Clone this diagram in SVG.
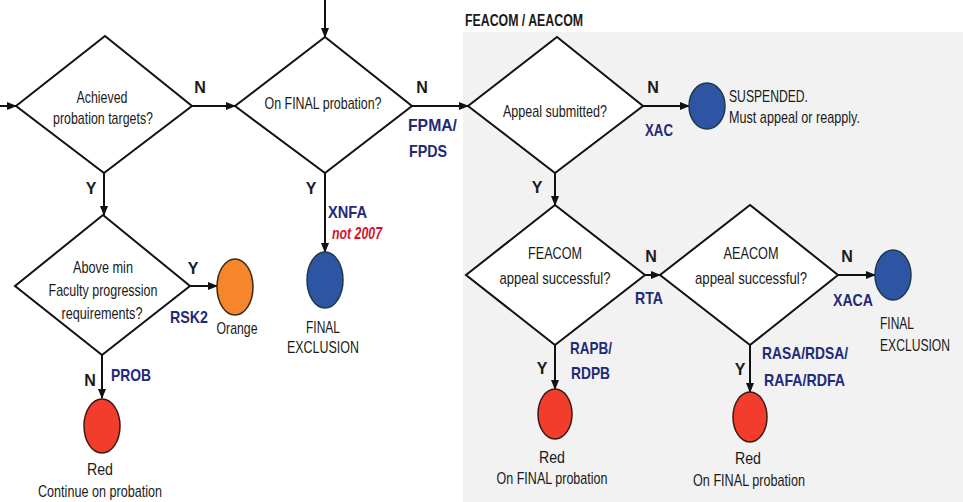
<svg xmlns="http://www.w3.org/2000/svg" width="963" height="502" viewBox="0 0 963 502">
<defs>
<marker id="ah" markerWidth="10" markerHeight="10" refX="9" refY="5" orient="auto" markerUnits="userSpaceOnUse">
<path d="M0,1 L10,5 L0,9 Z" fill="#111"/>
</marker>
</defs>
<style>
.dia{fill:#fff;stroke:#111;stroke-width:2}
.con{stroke:#111;stroke-width:2;fill:none;marker-end:url(#ah)}
text{font-family:"Liberation Sans",Arial,sans-serif;fill:#1a1a1a}
.t{font-size:17px;text-anchor:middle}
.tl{font-size:17px}
.yn{font-size:16px;font-weight:bold;text-anchor:middle}
.code{font-size:17px;font-weight:bold;fill:#1f2a78}
.red{font-size:16px;font-weight:bold;font-style:italic;fill:#d8102a}
.hd{font-size:16px;font-weight:bold}
.blue{fill:#2d55a3;stroke:#1f3a4a;stroke-width:1.5}
.redc{fill:#f23d2c;stroke:#3a1a10;stroke-width:1.5}
.org{fill:#f7852c;stroke:#3a2a10;stroke-width:1.5}
</style>
<rect id="panel" x="463" y="32" width="500" height="470" fill="#f2f2f2"/>
<text class="hd" x="465" y="26" textLength="118" lengthAdjust="spacingAndGlyphs">FEACOM / AEACOM</text>

<g id="connectors">
<line class="con" x1="0" y1="106" x2="16" y2="106"/>
<line class="con" x1="325" y1="0" x2="325" y2="37"/>
<line class="con" x1="192" y1="106" x2="235" y2="106"/>
<line class="con" x1="412" y1="106" x2="468" y2="106"/>
<line class="con" x1="643" y1="106" x2="689" y2="106"/>
<line class="con" x1="104" y1="173" x2="104" y2="215"/>
<line class="con" x1="325" y1="173" x2="325" y2="252"/>
<line class="con" x1="555" y1="173" x2="555" y2="205"/>
<line class="con" x1="190" y1="286" x2="217" y2="286"/>
<line class="con" x1="102" y1="355" x2="102" y2="398"/>
<line class="con" x1="645" y1="275" x2="660" y2="275"/>
<line class="con" x1="838" y1="275" x2="875" y2="275"/>
<line class="con" x1="555" y1="345" x2="555" y2="389"/>
<line class="con" x1="750" y1="345" x2="750" y2="392"/>
<text class="yn" x="200" y="93">N</text>
<text class="yn" x="422" y="93">N</text>
<text class="yn" x="653" y="93">N</text>
<text class="yn" x="91" y="194">Y</text>
<text class="yn" x="311" y="194">Y</text>
<text class="yn" x="537" y="193">Y</text>
<text class="yn" x="193" y="274">Y</text>
<text class="yn" x="90" y="386">N</text>
<text class="yn" x="651" y="262">N</text>
<text class="yn" x="847" y="262">N</text>
<text class="yn" x="542" y="374">Y</text>
<text class="yn" x="740" y="375">Y</text>
<text class="code" x="408" y="131" textLength="49" lengthAdjust="spacingAndGlyphs">FPMA/</text>
<text class="code" x="409" y="157" textLength="38" lengthAdjust="spacingAndGlyphs">FPDS</text>
<text class="code" x="645" y="136" textLength="28" lengthAdjust="spacingAndGlyphs">XAC</text>
<text class="code" x="328" y="218" textLength="39" lengthAdjust="spacingAndGlyphs">XNFA</text>
<text class="red" x="332" y="239" textLength="50" lengthAdjust="spacingAndGlyphs">not 2007</text>
<text class="code" x="170" y="323" textLength="38" lengthAdjust="spacingAndGlyphs">RSK2</text>
<text class="code" x="111" y="381" textLength="40" lengthAdjust="spacingAndGlyphs">PROB</text>
<text class="code" x="635" y="304" textLength="28" lengthAdjust="spacingAndGlyphs">RTA</text>
<text class="code" x="833" y="306" textLength="40" lengthAdjust="spacingAndGlyphs">XACA</text>
<text class="code" x="570" y="354" textLength="42" lengthAdjust="spacingAndGlyphs">RAPB/</text>
<text class="code" x="571" y="379" textLength="39" lengthAdjust="spacingAndGlyphs">RDPB</text>
<text class="code" x="762" y="359" textLength="86" lengthAdjust="spacingAndGlyphs">RASA/RDSA/</text>
<text class="code" x="764" y="386" textLength="81" lengthAdjust="spacingAndGlyphs">RAFA/RDFA</text>
</g>

<g id="d-achieved">
<polygon class="dia" points="16,106 105,36 192,106 104,173"/>
<text class="t" x="102" y="103" textLength="51" lengthAdjust="spacingAndGlyphs">Achieved</text>
<text class="t" x="103" y="124" textLength="100" lengthAdjust="spacingAndGlyphs">probation targets?</text>
</g>
<g id="d-final">
<polygon class="dia" points="235,106 325,37 412,106 325,173"/>
<text class="t" x="323" y="109" textLength="117" lengthAdjust="spacingAndGlyphs">On FINAL probation?</text>
</g>
<g id="d-appeal">
<polygon class="dia" points="468,106 557,37 643,106 555,173"/>
<text class="t" x="555" y="117" textLength="104" lengthAdjust="spacingAndGlyphs">Appeal submitted?</text>
</g>
<g id="d-feacom">
<polygon class="dia" points="466,275 555,205 645,275 555,345"/>
<text class="t" x="555" y="259" textLength="54" lengthAdjust="spacingAndGlyphs">FEACOM</text>
<text class="t" x="555" y="284" textLength="111" lengthAdjust="spacingAndGlyphs">appeal  successful?</text>
</g>
<g id="d-aeacom">
<polygon class="dia" points="660,275 750,205 838,275 750,345"/>
<text class="t" x="751" y="259" textLength="55" lengthAdjust="spacingAndGlyphs">AEACOM</text>
<text class="t" x="751" y="284" textLength="112" lengthAdjust="spacingAndGlyphs">appeal  successful?</text>
</g>
<g id="d-above">
<polygon class="dia" points="15,286 103,215 190,286 102,355"/>
<text class="t" x="103" y="273" textLength="60" lengthAdjust="spacingAndGlyphs">Above min</text>
<text class="t" x="103" y="296" textLength="109" lengthAdjust="spacingAndGlyphs">Faculty progression</text>
<text class="t" x="102" y="319" textLength="81" lengthAdjust="spacingAndGlyphs">requirements?</text>
</g>

<g id="n-suspended">
<ellipse class="blue" cx="707" cy="106" rx="18" ry="23"/>
<text class="tl" x="729" y="102" textLength="79" lengthAdjust="spacingAndGlyphs">SUSPENDED.</text>
<text class="tl" x="729" y="123" textLength="131" lengthAdjust="spacingAndGlyphs">Must appeal or reapply.</text>
</g>
<g id="n-orange">
<ellipse class="org" cx="235" cy="287" rx="18" ry="28"/>
<text class="t" x="237" y="334" textLength="41" lengthAdjust="spacingAndGlyphs">Orange</text>
</g>
<g id="n-red1">
<ellipse class="redc" cx="102" cy="426" rx="18" ry="27"/>
<text class="t" x="100" y="475" textLength="26" lengthAdjust="spacingAndGlyphs">Red</text>
<text class="t" x="100" y="497" textLength="124" lengthAdjust="spacingAndGlyphs">Continue on probation</text>
</g>
<g id="n-excl1">
<ellipse class="blue" cx="325" cy="280" rx="18" ry="28"/>
<text class="t" x="323" y="333" textLength="34" lengthAdjust="spacingAndGlyphs">FINAL</text>
<text class="t" x="323" y="353" textLength="72" lengthAdjust="spacingAndGlyphs">EXCLUSION</text>
</g>
<g id="n-red2">
<ellipse class="redc" cx="555" cy="414" rx="17" ry="25"/>
<text class="t" x="552" y="463" textLength="26" lengthAdjust="spacingAndGlyphs">Red</text>
<text class="t" x="552" y="484" textLength="111" lengthAdjust="spacingAndGlyphs">On FINAL probation</text>
</g>
<g id="n-red3">
<ellipse class="redc" cx="750" cy="417" rx="17" ry="25"/>
<text class="t" x="748" y="464" textLength="26" lengthAdjust="spacingAndGlyphs">Red</text>
<text class="t" x="749" y="486" textLength="112" lengthAdjust="spacingAndGlyphs">On FINAL probation</text>
</g>
<g id="n-excl2">
<ellipse class="blue" cx="893" cy="275" rx="18" ry="25"/>
<text class="tl" x="880" y="329" textLength="34" lengthAdjust="spacingAndGlyphs">FINAL</text>
<text class="tl" x="950" y="351" text-anchor="end" textLength="70" lengthAdjust="spacingAndGlyphs">EXCLUSION</text>
</g>
</svg>
